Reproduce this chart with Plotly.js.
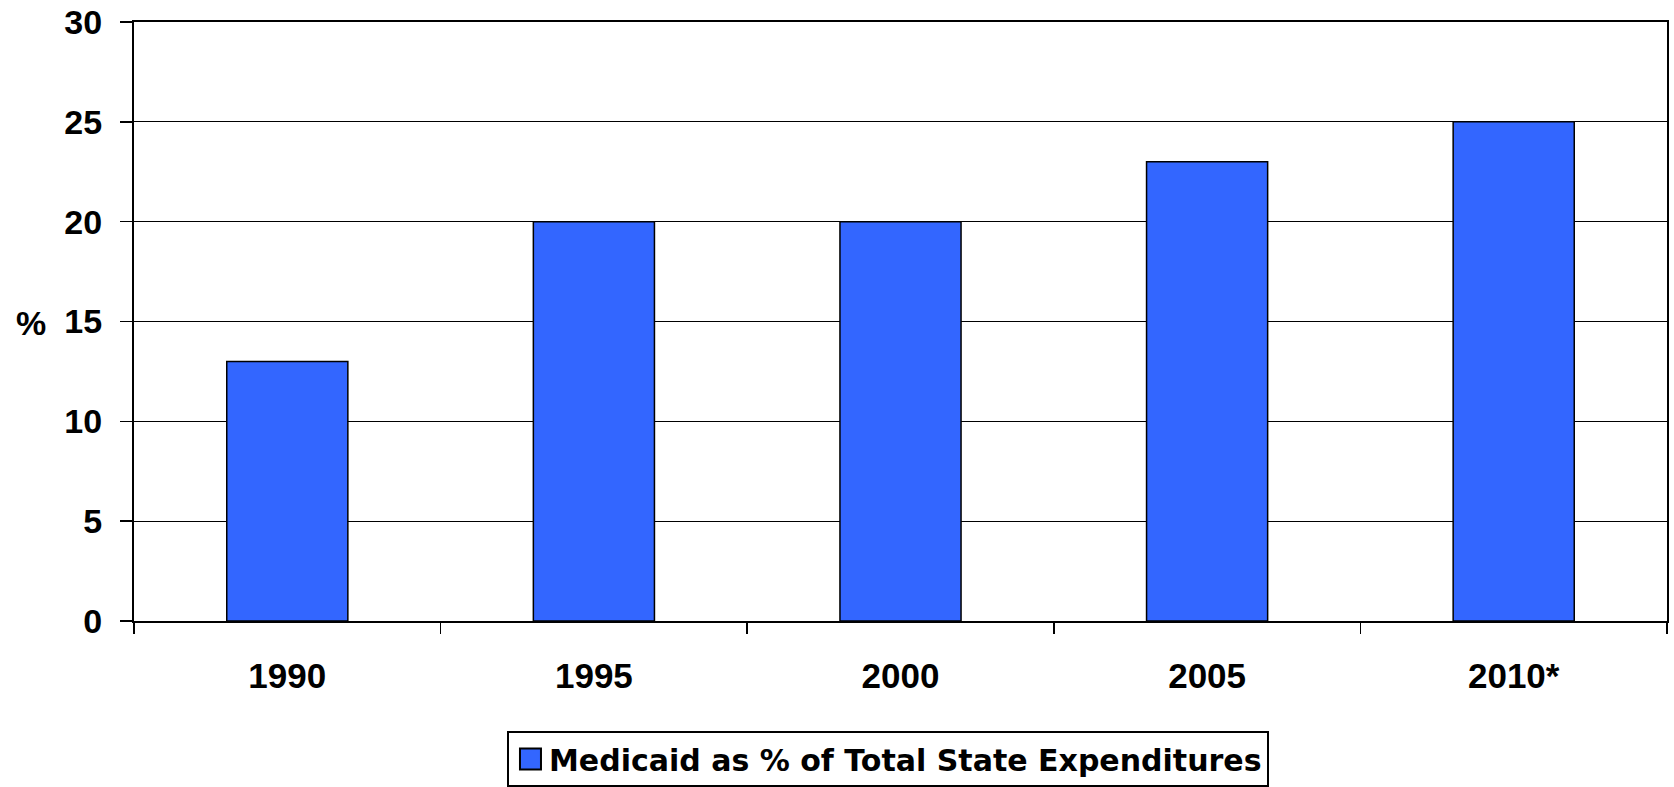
<!DOCTYPE html>
<html>
<head>
<meta charset="utf-8">
<script src="https://cdn.plot.ly/plotly-3.0.1.min.js"></script>
<style>
  html, body { margin: 0; padding: 0; background: #ffffff; }
  #chart { width: 1674px; height: 787px; }
</style>
</head>
<body>
<div id="chart"></div>
<script>
const years = ["1990", "1995", "2000", "2005", "2010*"];
const medicaidShare = [13, 20, 20, 23, 25];
const seriesName = "Medicaid as % of Total State Expenditures";
const yTicks = [0, 5, 10, 15, 20, 25, 30];
const yAxisLabel = "%";

const FONT = "Arial, 'Liberation Sans', sans-serif";
const LEGEND_FONT = "'DejaVu Sans', Arial, sans-serif";

const trace = {
  type: "bar",
  x: years,
  y: medicaidShare,
  name: seriesName,
  showlegend: true,
  marker: { color: "#3366FF", line: { color: "#000000", width: 1.5 } },
  hoverinfo: "x+y"
};

const layout = {
  width: 1674,
  height: 787,
  margin: { l: 134, r: 7, t: 22, b: 166, autoexpand: false },
  paper_bgcolor: "#ffffff",
  plot_bgcolor: "#ffffff",
  bargap: 0.605,
  font: { family: FONT, color: "#000000", weight: "bold" },
  xaxis: {
    type: "category",
    tickson: "boundaries",
    ticks: "outside",
    ticklen: 11,
    tickwidth: 1.5,
    tickcolor: "#000000",
    showline: true,
    linecolor: "#000000",
    linewidth: 2,
    mirror: true,
    showgrid: false,
    ticklabelstandoff: 23,
    tickfont: { family: FONT, size: 35, color: "#000000", weight: "bold" }
  },
  yaxis: {
    range: [0, 30],
    tickvals: yTicks,
    ticktext: yTicks.map(String),
    ticks: "outside",
    ticklen: 12,
    tickwidth: 1.5,
    tickcolor: "#000000",
    showline: true,
    linecolor: "#000000",
    linewidth: 2,
    mirror: true,
    showgrid: true,
    gridcolor: "#000000",
    gridwidth: 1.2,
    zeroline: false,
    ticklabelstandoff: 11,
    tickfont: { family: FONT, size: 34, color: "#000000", weight: "bold" }
  },
  legend: {
    x: 0.2433,
    y: -0.1836,
    xanchor: "left",
    yanchor: "top",
    orientation: "h",
    bordercolor: "#000000",
    borderwidth: 2,
    bgcolor: "#ffffff",
    font: { family: LEGEND_FONT, size: 30, color: "#000000", weight: "bold" }
  },
  annotations: [{
    text: yAxisLabel,
    xref: "paper", yref: "paper",
    x: -0.0673, y: 0.497,
    xanchor: "center", yanchor: "middle",
    showarrow: false,
    font: { family: FONT, size: 34, color: "#000000", weight: "bold" }
  }]
};

Plotly.newPlot("chart", [trace], layout, { displayModeBar: false, staticPlot: true }).then(function (gd) {
  // enlarge the legend swatch to match the reference's larger square
  gd.querySelectorAll(".legend .legendpoints path").forEach(function (p) {
    p.setAttribute("d", "M12,10.5H-9V-10.5H12Z");
    p.style.strokeWidth = "2px";
  });
});
</script>
</body>
</html>
